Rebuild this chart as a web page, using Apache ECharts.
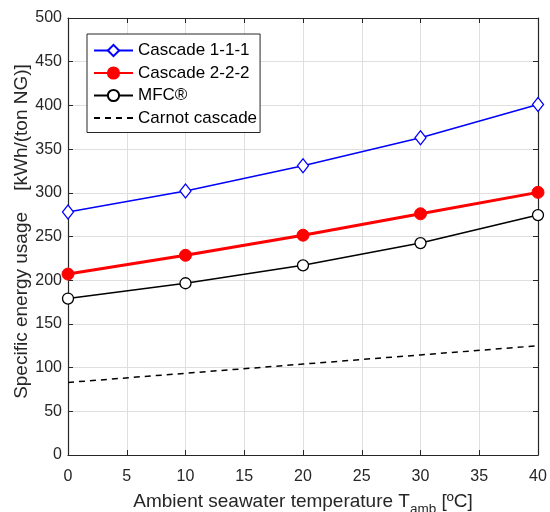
<!DOCTYPE html>
<html><head><meta charset="utf-8">
<script src="https://cdn.jsdelivr.net/npm/echarts@6/dist/echarts.min.js"></script>
<style>html,body{margin:0;padding:0;background:#fff}#c{width:550px;height:512px}</style>
</head><body><div id="c"></div>
<script>
const temps = [0, 10, 20, 30, 40];
const cascade111 = [278, 302, 331, 363, 401];
const cascade222 = [207, 228.5, 251.5, 276, 300.5];
const mfc = [179, 196.5, 217, 242.5, 274.5];
const carnot = [83, 93.5, 104, 114.5, 125];
const xTicks = [0, 5, 10, 15, 20, 25, 30, 35, 40];
const yTicks = [0, 50, 100, 150, 200, 250, 300, 350, 400, 450, 500];

const pairs = arr => temps.map((t, i) => [t, arr[i]]);
const FONT = 'Liberation Sans, Arial, sans-serif';
const AX = '#262626';

const chart = echarts.init(document.getElementById('c'), null, {renderer: 'canvas'});
const baseX = {
  type: 'value', min: xTicks[0], max: xTicks[xTicks.length - 1], interval: 5,
  axisLine: {show: true, onZero: false, lineStyle: {color: AX, width: 1.2}},
  axisTick: {show: true, inside: true, length: 5, lineStyle: {color: AX}},
  splitLine: {show: false}
};
const baseY = {
  type: 'value', min: yTicks[0], max: yTicks[yTicks.length - 1], interval: 50,
  axisLine: {show: true, onZero: false, lineStyle: {color: AX, width: 1.2}},
  axisTick: {show: true, inside: true, length: 5, lineStyle: {color: AX}},
  splitLine: {show: false}
};
chart.setOption({
  animation: false,
  backgroundColor: '#fff',
  textStyle: {fontFamily: FONT},
  grid: {left: 68, right: 12, top: 18, bottom: 57, containLabel: false, outerBoundsMode: 'none'},
  legend: {
    orient: 'vertical', left: 87, top: 34,
    backgroundColor: '#fff', borderColor: '#262626', borderWidth: 1,
    padding: [8, 3, 6, 6], itemGap: 5.5, itemWidth: 39, itemHeight: 14,
    textStyle: {fontFamily: FONT, fontSize: 17, color: '#000'},
    data: ['Cascade 1-1-1', 'Cascade 2-2-2', 'MFC®',
      {name: 'Carnot cascade', itemStyle: {opacity: 0}}]
  },
  xAxis: [
    Object.assign({}, baseX, {
      position: 'bottom',
      axisLabel: {show: true, fontSize: 16, color: AX, margin: 14, fontFamily: FONT},
      splitLine: {show: true, lineStyle: {color: '#dfdfdf', width: 1}},
      name: 'Ambient seawater temperature T{sub|amb} [ºC]',
      nameLocation: 'middle', nameGap: 32, nameMoveOverlap: false,
      nameTextStyle: {fontSize: 19, color: AX, fontFamily: FONT,
        rich: {sub: {fontSize: 13.5, verticalAlign: 'bottom', padding: [15, 0, 0, 0], color: AX, fontFamily: FONT}}}
    }),
    Object.assign({}, baseX, {position: 'top', axisLabel: {show: false}})
  ],
  yAxis: [
    Object.assign({}, baseY, {
      position: 'left',
      axisLabel: {show: true, fontSize: 16, color: AX, margin: 6, fontFamily: FONT},
      splitLine: {show: true, lineStyle: {color: '#dfdfdf', width: 1}},
      name: 'Specific energy usage    [kWh/(ton NG)]',
      nameLocation: 'middle', nameGap: 37, nameMoveOverlap: false,
      nameTextStyle: {fontSize: 19, color: AX, fontFamily: FONT, padding: [0, 0, 0, 10]}
    }),
    Object.assign({}, baseY, {position: 'right', axisLabel: {show: false}})
  ],
  series: [
    {name: 'Cascade 1-1-1', type: 'line', data: pairs(cascade111),
     symbol: 'diamond', symbolSize: [11, 14], showAllSymbol: true,
     lineStyle: {color: '#0000ff', width: 1.5},
     itemStyle: {color: '#fff', borderColor: '#0000ff', borderWidth: 1.3}, z: 4},
    {name: 'Cascade 2-2-2', type: 'line', data: pairs(cascade222),
     symbol: 'circle', symbolSize: 12,
     lineStyle: {color: '#ff0000', width: 3},
     itemStyle: {color: '#ff0000', borderColor: '#ff0000', borderWidth: 1}, z: 3},
    {name: 'MFC®', type: 'line', data: pairs(mfc),
     symbol: 'circle', symbolSize: 11,
     lineStyle: {color: '#000', width: 1.5},
     itemStyle: {color: '#fff', borderColor: '#000', borderWidth: 1.3}, z: 3},
    {name: 'Carnot cascade', type: 'line', data: pairs(carnot),
     symbol: 'none',
     lineStyle: {color: '#000', width: 1.5, type: [6, 5]},
     itemStyle: {color: '#000'}, z: 2}
  ]
});
</script></body></html>
